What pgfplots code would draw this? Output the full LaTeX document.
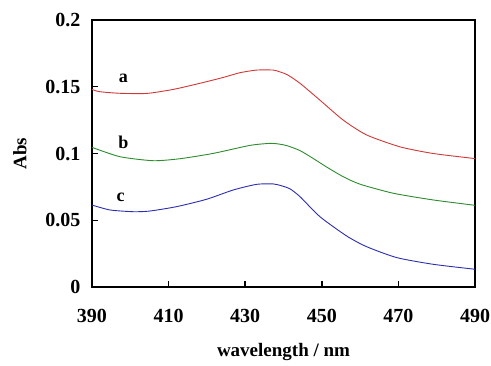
\documentclass[border=0pt]{standalone}
\usepackage{pgfplots}
\pgfplotsset{compat=1.18}
\usepackage{fontspec}
\setmainfont{Liberation Serif}
\definecolor{cred}{RGB}{210,55,55}
\definecolor{cgreen}{RGB}{45,140,45}
\definecolor{cblue}{RGB}{45,45,175}
\begin{document}
\begin{tikzpicture}
\useasboundingbox (-92bp,-79bp) rectangle (399bp,287bp);
\begin{axis}[
  at={(0,0)}, anchor=south west,
  scale only axis, width=383bp, height=267bp,
  xmin=390, xmax=490, ymin=0, ymax=0.2,
  xtick={390,410,...,490},
  ytick={0,0.05,0.1,0.15,0.2},
  yticklabels={0,0.05,0.1,0.15,0.2},
  tick align=inside, tick pos=left,
  major tick length=6bp,
  axis line style={line width=1.8bp},
  every tick/.style={black, line width=1.5bp},
  tick label style={font=\fontsize{20bp}{22bp}\selectfont\bfseries},
  /pgf/number format/assume math mode=true,
  xticklabel style={yshift=-19bp},
  yticklabel style={xshift=-8bp},
  xlabel={wavelength / nm},
  ylabel={Abs},
  label style={font=\fontsize{19bp}{21bp}\selectfont\bfseries},
  xlabel style={at={(axis description cs:0.5,-0.243)}, anchor=center},
  ylabel style={at={(axis description cs:-0.188,0.5)}, anchor=center},
  clip=false,
]
\addplot[cred, line width=0.9bp, smooth, tension=0.4] coordinates {
(390,0.1480)(392,0.1463)(397.3,0.1451)(404.3,0.1450)(411.2,0.1480)(418.2,0.1526)(424.3,0.1570)(428.6,0.1605)(433,0.1625)(437.3,0.1625)(439,0.1612)(441,0.1590)(444.3,0.1526)(449.5,0.1400)(455.6,0.1250)(461.7,0.1139)(470.4,0.1050)(479.1,0.1000)(490,0.0962)};
\addplot[cgreen, line width=0.9bp, smooth, tension=0.4] coordinates {
(390,0.1046)(397.3,0.0976)(406,0.0946)(413,0.0961)(421.7,0.1001)(431.3,0.1061)(436.6,0.1076)(439,0.1070)(441,0.1058)(444.3,0.1022)(447.8,0.0962)(451.3,0.0898)(455.6,0.0826)(460,0.0770)(468.7,0.0702)(479.1,0.0652)(490,0.0612)};
\addplot[cblue, line width=0.9bp, smooth, tension=0.4] coordinates {
(390,0.0614)(394.7,0.0577)(400.8,0.0564)(405.1,0.0569)(412.1,0.0602)(419.9,0.0657)(426.9,0.0727)(433,0.0769)(437.3,0.0772)(439.5,0.0758)(441.7,0.0735)(444.3,0.0677)(449.5,0.0527)(456.5,0.0382)(461.7,0.0302)(469.6,0.0220)(479.1,0.0170)(490,0.0133)};
\node[font=\fontsize{18bp}{20bp}\selectfont\bfseries] at (axis cs:398.2,0.1565) {a};
\node[font=\fontsize{18bp}{20bp}\selectfont\bfseries] at (axis cs:398.2,0.1085) {b};
\node[font=\fontsize{18bp}{20bp}\selectfont\bfseries] at (axis cs:397.5,0.0675) {c};
\end{axis}
\end{tikzpicture}
\end{document}
